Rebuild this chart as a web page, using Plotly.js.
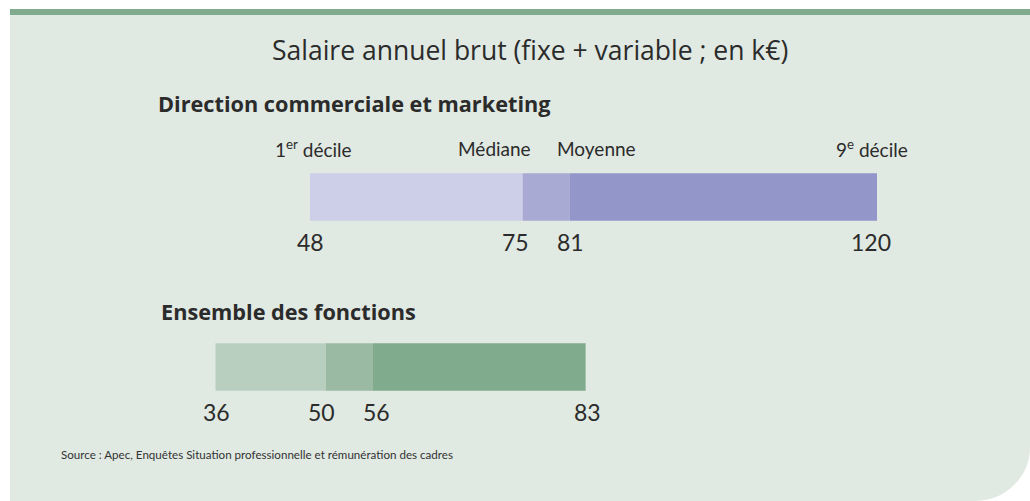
<!DOCTYPE html>
<html>
<head>
<meta charset="utf-8">
<script src="https://cdn.plot.ly/plotly-3.0.1.min.js"></script>
<style>html,body{margin:0;padding:0;background:#fff;}#chart{width:1030px;height:501px;}</style>
</head>
<body>
<div id="chart"></div>
<script>
// ---- data ----
const categories = ["Direction commerciale et marketing", "Ensemble des fonctions"];
const decile1 = [48, 36];
const mediane = [75, 50];
const moyenne = [81, 56];
const decile9 = [120, 83];
const headerLabels = ["1<sup>er</sup> décile", "Médiane", "Moyenne", "9<sup>e</sup> décile"];
const titleText = "Salaire annuel brut (fixe + variable ; en k€)";
const sourceText = "Source : Apec, Enquêtes Situation professionnelle et rémunération des cadres";

// ---- styles ----
const W = 1030, H = 501;
const FONT = "Lato, 'Noto Sans', sans-serif";
const FONT2 = "'Open Sans', 'Noto Sans', sans-serif";
const TXT = "#2b2b2b";
const light = ["#cdcfe9", "#b8cfc0"];
const mid = ["#a9aad4", "#9bbaa3"];
const dark = ["#9396c9", "#80ab8d"];
const px = x => x / W;
const py = y => 1 - y / H;

const barW = 0.28;
const common = {type: "bar", orientation: "h", y: categories, width: barW, hoverinfo: "skip"};
const traces = [
  Object.assign({}, common, {base: decile1, x: decile1.map((v, i) => mediane[i] - v), marker: {color: light, line: {width: 0}}}),
  Object.assign({}, common, {base: mediane, x: mediane.map((v, i) => moyenne[i] - v), marker: {color: mid, line: {width: 0}}}),
  Object.assign({}, common, {base: moyenne, x: moyenne.map((v, i) => decile9[i] - v), marker: {color: dark, line: {width: 0}}})
];

const annotations = [];
// value labels under bars
const valShift = [[0, -7, 1, -6], [1, -4, 3, 2]];
categories.forEach((c, i) => {
  [decile1[i], mediane[i], moyenne[i], decile9[i]].forEach((v, k) => {
    annotations.push({x: v, y: c, xref: "x", yref: "y", text: String(v), showarrow: false,
      yanchor: "middle", yshift: -45, xshift: valShift[i][k], font: {family: FONT, size: 23, color: TXT}});
  });
});
// header labels above first bar
const hdrVals = [decile1[0], mediane[0], moyenne[0], decile9[0]];
const hdrAnchor = ["center", "right", "left", "center"];
const hdrShift = [3, 10, -15, -5];
hdrVals.forEach((v, k) => {
  annotations.push({x: v, y: categories[0], xref: "x", yref: "y", text: headerLabels[k], showarrow: false,
    xanchor: hdrAnchor[k], yanchor: "middle", yshift: 49, xshift: hdrShift[k], font: {family: FONT, size: 19, color: TXT}});
});
// titles
annotations.push({xref: "paper", yref: "paper", x: px(530), y: py(50), yanchor: "middle", text: titleText, showarrow: false,
  font: {family: FONT2, size: 26.5, color: TXT}});
annotations.push({xref: "paper", yref: "paper", x: px(156), y: py(103), xanchor: "left", yanchor: "middle", text: "<b>" + categories[0] + "</b>", showarrow: false,
  font: {family: FONT2, size: 21.7, color: TXT}});
annotations.push({xref: "paper", yref: "paper", x: px(159), y: py(311), xanchor: "left", yanchor: "middle", text: "<b>" + categories[1] + "</b>", showarrow: false,
  font: {family: FONT2, size: 21.7, color: TXT}});
annotations.push({xref: "paper", yref: "paper", x: px(59), y: py(454), xanchor: "left", yanchor: "middle", text: sourceText, showarrow: false,
  font: {family: FONT, size: 11.6, color: "#333"}});

const bgPath = `M ${px(10)} ${py(15)} L ${px(1030)} ${py(15)} L ${px(1030)} ${py(448)} ` +
  `C ${px(1030)} ${py(476)} ${px(1006)} ${py(501)} ${px(975)} ${py(501)} L ${px(10)} ${py(501)} Z`;

const shapes = [
  {type: "path", xref: "paper", yref: "paper", path: bgPath, fillcolor: "#e0e9e2", line: {width: 0}, layer: "below"},
  {type: "rect", xref: "paper", yref: "paper", x0: px(10), x1: 1, y0: py(15), y1: py(9), fillcolor: "#80ab8d", line: {width: 0}, layer: "below"}
];

// axis: 48 -> 310px, 120 -> 877px
const k = (877 - 310) / (decile9[0] - decile1[0]);
const x0 = decile1[0] - 310 / k;
const x1 = x0 + W / k;
// category centers at 197px and 367px
const pc = 170;
const y0 = -197 / pc;
const y1 = (H - 197) / pc;

const layout = {
  width: W, height: H,
  margin: {l: 0, r: 0, t: 0, b: 0, pad: 0},
  paper_bgcolor: "#ffffff", plot_bgcolor: "rgba(0,0,0,0)",
  barmode: "overlay", showlegend: false,
  xaxis: {range: [x0, x1], visible: false, fixedrange: true},
  yaxis: {type: "category", range: [y1, y0], visible: false, fixedrange: true},
  annotations: annotations, shapes: shapes,
  font: {family: FONT, color: TXT}
};
Plotly.newPlot("chart", traces, layout, {displayModeBar: false, staticPlot: true});
</script>
</body>
</html>
